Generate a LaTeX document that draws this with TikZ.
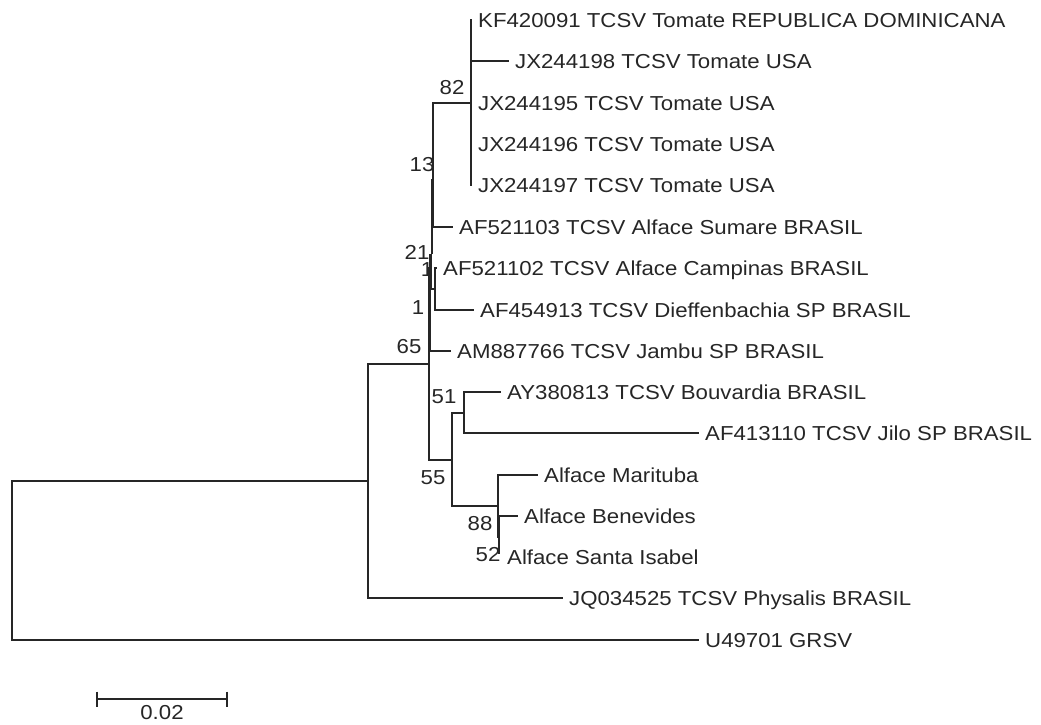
\documentclass[tikz,border=0pt]{standalone}
\usepackage{fontspec}
\setmainfont[FakeStretch=1.1]{Liberation Sans}
\usepackage{tikz}
\usetikzlibrary{
  calc,
  positioning
}

\begin{document}
\begin{tikzpicture}[x=1pt,y=-1pt]
  \tikzset{
    branch/.style={line width=1.1pt, draw=black!85, line cap=rect},
    taxon/.style={anchor=base west, inner sep=0pt, xshift=7pt, yshift=-7pt,
      font=\fontsize{20.2}{21}\selectfont, text=black!85},
    boot/.style={inner sep=0pt, font=\fontsize{20.2}{21}\selectfont, text=black!85},
  }
  \useasboundingbox (0,0) rectangle (1041,724);

  % leaf tips
  \coordinate (kf)  at (471,20);
  \coordinate (jx8) at (508,61);
  \coordinate (jx5) at (471,103);
  \coordinate (jx6) at (471,144);
  \coordinate (jx7) at (471,185);
  \coordinate (af3) at (452,227);
  \coordinate (af2) at (436,268);
  \coordinate (af9) at (473,310);
  \coordinate (am)  at (450,351);
  \coordinate (ay)  at (500,392);
  \coordinate (jil) at (698,433);
  \coordinate (mar) at (537,475);
  \coordinate (ben) at (517,516);
  \coordinate (san) at (500,557);
  \coordinate (jq)  at (562,598);
  \coordinate (gr)  at (698,640);

  \node[taxon] (tkf)  at (kf)  {KF420091 TCSV Tomate REPUBLICA DOMINICANA};
  \node[taxon] (tjx8) at (jx8) {JX244198 TCSV Tomate USA};
  \node[taxon] (tjx5) at (jx5) {JX244195 TCSV Tomate USA};
  \node[taxon] (tjx6) at (jx6) {JX244196 TCSV Tomate USA};
  \node[taxon] (tjx7) at (jx7) {JX244197 TCSV Tomate USA};
  \node[taxon] (taf3) at (af3) {AF521103 TCSV Alface Sumare BRASIL};
  \node[taxon] (taf2) at (af2) {AF521102 TCSV Alface Campinas BRASIL};
  \node[taxon] (taf9) at (af9) {AF454913 TCSV Dieffenbachia SP BRASIL};
  \node[taxon] (tam)  at (am)  {AM887766 TCSV Jambu SP BRASIL};
  \node[taxon] (tay)  at (ay)  {AY380813 TCSV Bouvardia BRASIL};
  \node[taxon] (tjil) at (jil) {AF413110 TCSV Jilo SP BRASIL};
  \node[taxon] (tmar) at (mar) {Alface Marituba};
  \node[taxon] (tben) at (ben) {Alface Benevides};
  \node[taxon] (tsan) at (san) {Alface Santa Isabel};
  \node[taxon] (tjq)  at (jq)  {JQ034525 TCSV Physalis BRASIL};
  \node[taxon] (tgr)  at (gr)  {U49701 GRSV};

  % internal nodes
  \coordinate (n82) at (471,103);
  \coordinate (n13) at (433,180);
  \coordinate (naf) at (435,289);
  \coordinate (n21) at (431.5,255);
  \coordinate (n1)  at (430,268);
  \coordinate (n65) at (429,364);
  \coordinate (n51) at (464,413);
  \coordinate (n55) at (452,460);
  \coordinate (n88) at (498,506);
  \coordinate (n52) at (499,537);
  \coordinate (nout) at (368,481);
  \coordinate (root) at (12,640);

  % tomato clade
  \draw[branch] (kf) -- (jx7);
  \draw[branch] (n82 |- jx8) -- (jx8);
  \draw[branch] (433,103) -- (n82);
  \draw[branch] (433,103) -- (433,227) -- (af3);
  \draw[branch] (431.5,180) -- (n13);
  \draw[branch, line width=2.6pt] (432,182) -- (432,253);
  \draw[branch] (431.5,180) -- (431.5,289) -- (naf);
  \draw[branch] (435,268) -- (af2);
  \draw[branch] (435,268) -- (435,310) -- (af9);
  \draw[branch] (430,255) -- (n21);
  \draw[branch] (430,255) -- (430,351) -- (am);
  \draw[branch] (429,268) -- (n1);
  \draw[branch] (429,268) -- (429,460) -- (n55);

  % lower clade
  \draw[branch] (452,413) -- (452,506) -- (n88);
  \draw[branch] (452,413) -- (n51);
  \draw[branch] (464,392) -- (ay);
  \draw[branch] (464,392) -- (464,433) -- (jil);
  \draw[branch] (498,475) -- (mar);
  \draw[branch] (498,475) -- (498,537) -- (n52);
  \draw[branch] (499,516) -- (ben);
  \draw[branch] (499,516) -- (499,553);

  % outer branches
  \draw[branch] (368,364) -- (n65);
  \draw[branch] (368,364) -- (368,598) -- (jq);
  \draw[branch] (12,481) -- (nout);
  \draw[branch] (12,481) -- (root) -- (gr);

  % bootstrap values
  \node[boot] (b82) at (452,88)  {82};
  \node[boot] (b13) at (422,165) {13};
  \node[boot] (b21) at (417,252) {21};
  \node[boot] (b1a) at (427,270) {1};
  \node[boot] (b1)  at (418,308) {1};
  \node[boot] (b65) at (409,347) {65};
  \node[boot] (b51) at (444,397) {51};
  \node[boot] (b55) at (433,478) {55};
  \node[boot] (b88) at (480,524) {88};
  \node[boot] (b52) at (488,555) {52};

  % scale bar
  \coordinate (sa) at (97,699);
  \coordinate (sb) at (227,699);
  \draw[branch, line cap=butt] (sa) -- (sb);
  \draw[branch, line cap=butt] ($(sa)+(0,-7.5)$) -- ($(sa)+(0,7.5)$);
  \draw[branch, line cap=butt] ($(sb)+(0,-7.5)$) -- ($(sb)+(0,7.5)$);
  \node[boot] (scale) at (162,713) {0.02};
\end{tikzpicture}
\end{document}
